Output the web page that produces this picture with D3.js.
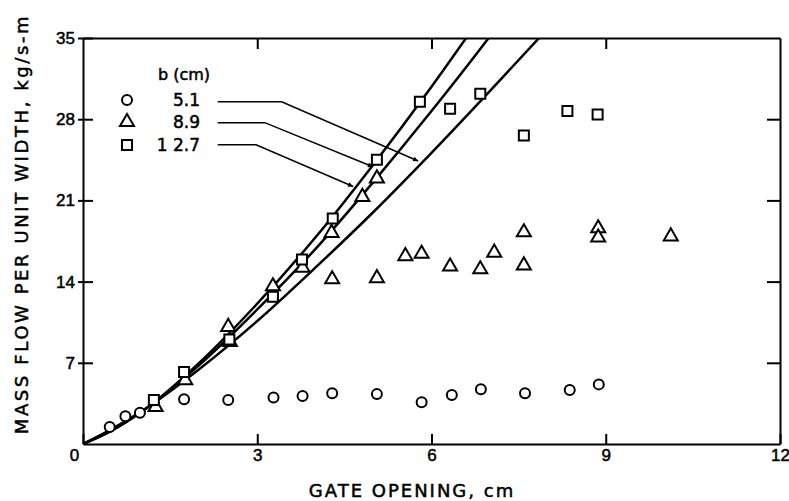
<!DOCTYPE html>
<html>
<head>
<meta charset="utf-8">
<script src="https://cdn.jsdelivr.net/npm/d3@7"></script>
<style>
  body { margin: 0; background: #fff; }
  svg { display: block; font-family: "DejaVu Sans", sans-serif; }
  svg text { stroke: #000; stroke-width: 0.5; fill: #000; }
  .axis path, .axis line { stroke: #000; stroke-width: 2; }
  .axis text { font-size: 17px; }
</style>
</head>
<body>
<div id="chart"></div>
<script>
// gate opening (cm) vs mass flow per unit width (kg/s-m)
var circles51 = [[0.46, 1.47], [0.73, 2.4], [0.98, 2.7], [1.74, 3.85], [2.5, 3.8], [3.28, 4.0],
  [3.78, 4.14], [4.29, 4.37], [5.06, 4.3], [5.83, 3.6], [6.35, 4.22], [6.85, 4.71],
  [7.61, 4.37], [8.38, 4.66], [8.88, 5.14]];
var triangles89 = [[1.25, 3.2], [1.76, 5.5], [2.5, 10.1], [2.53, 8.8], [3.27, 13.6], [3.78, 15.2],
  [4.28, 18.2], [4.81, 21.3], [5.06, 22.9], [4.29, 14.2], [5.06, 14.3], [5.55, 16.2],
  [5.83, 16.4], [6.32, 15.3], [6.84, 15.06], [7.08, 16.5], [7.59, 15.4], [7.59, 18.25],
  [8.87, 18.6], [8.87, 17.8], [10.12, 17.9]];
var squares127 = [[1.22, 3.8], [1.74, 6.2], [2.52, 9.0], [3.27, 12.7], [3.77, 15.9], [4.3, 19.45],
  [5.06, 24.5], [5.8, 29.5], [6.32, 28.9], [6.84, 30.2], [7.59, 26.6], [8.34, 28.7], [8.86, 28.4]];

// predicted curves
var curve51 = [[0, 0], [0.5, 1.3], [1, 2.8], [2, 6.45], [3, 10.6], [4, 15.2], [5, 20.0], [6, 25.1], [7, 30.4], [8, 35.8]];
var curve89 = [[0, 0], [0.5, 1.2], [1, 2.75], [2, 6.8], [3, 11.6], [4, 16.8], [5, 22.6], [6, 28.7], [7, 35.1], [7.5, 38.4]];
var curve127 = [[0, 0], [0.5, 1.15], [1, 2.75], [2, 7.0], [3, 12.1], [4, 17.8], [5, 24.1], [6, 30.8], [7, 37.9]];

var legendLabels = ['5.1', '8.9', '1 2.7'];
// leader lines from legend labels to curves (data units)
var leaders = [
  [[2.32, 29.5], [3.42, 29.5], [5.77, 24.4]],
  [[2.32, 27.7], [3.13, 27.7], [4.99, 23.9]],
  [[2.32, 25.8], [2.98, 25.8], [4.65, 22.2]]
];

var xTicks = [0, 3, 6, 9, 12];
var yTicks = [7, 14, 21, 28, 35];

var margins = { top: 38, right: 9, bottom: 57, left: 83 };
var width = 789 - margins.left - margins.right;
var height = 501 - margins.top - margins.bottom;

var x = d3.scaleLinear().domain([0, 12]).range([0, width]);
var y = d3.scaleLinear().domain([0, 35]).range([height, 0]);

var svg = d3.select('#chart').append('svg')
  .attr('width', 789)
  .attr('height', 501);

var graph = svg.append('g')
  .attr('transform', 'translate(' + margins.left + ',' + margins.top + ')');

graph.append('clipPath').attr('id', 'clip')
  .append('rect').attr('width', width).attr('height', height);

// frame + ticks
graph.append('g').attr('class', 'axis')
  .attr('transform', 'translate(0,' + height + ')')
  .call(d3.axisBottom(x).tickValues(xTicks).tickSizeInner(-10).tickSizeOuter(0).tickPadding(5))
  .selectAll('text').attr('dx', function(d) { return d === 0 ? -9 : 0; });

graph.append('g').attr('class', 'axis')
  .call(d3.axisTop(x).tickValues([3, 6, 9]).tickSizeInner(-11).tickSizeOuter(0).tickFormat(''));

var yAxisG = graph.append('g').attr('class', 'axis')
  .call(d3.axisLeft(y).tickValues(yTicks).tickSizeInner(-10).tickSizeOuter(0).tickPadding(8));
yAxisG.selectAll('.tick line').attr('x1', -5);

graph.append('g').attr('class', 'axis')
  .attr('transform', 'translate(' + width + ',0)')
  .call(d3.axisRight(y).tickValues([7, 14, 21, 28]).tickSizeInner(-13).tickSizeOuter(0).tickFormat(''));

// curves
var line = d3.line()
  .x(function(d) { return x(d[0]); })
  .y(function(d) { return y(d[1]); })
  .curve(d3.curveMonotoneX);

graph.append('g').attr('clip-path', 'url(#clip)')
  .selectAll('path').data([curve51, curve89, curve127]).enter()
  .append('path')
  .attr('d', line)
  .attr('fill', 'none')
  .attr('stroke', '#000')
  .attr('stroke-width', 2.5);

// leader lines with arrows
svg.append('defs').append('marker')
  .attr('id', 'arrow')
  .attr('viewBox', '0 0 10 10')
  .attr('refX', 10).attr('refY', 5)
  .attr('markerWidth', 9).attr('markerHeight', 5)
  .attr('markerUnits', 'userSpaceOnUse')
  .attr('orient', 'auto')
  .append('path').attr('d', 'M0,0L10,5L0,10Z').attr('fill', '#000');

var leaderLine = d3.line()
  .x(function(d) { return x(d[0]); })
  .y(function(d) { return y(d[1]); });

graph.selectAll('.leader').data(leaders).enter()
  .append('path')
  .attr('class', 'leader')
  .attr('d', leaderLine)
  .attr('fill', 'none')
  .attr('stroke', '#000')
  .attr('stroke-width', 1.5)
  .attr('marker-end', 'url(#arrow)');

// markers
var triPath = d3.symbol().type(d3.symbolTriangle).size(85);
var sqPath = d3.symbol().type(d3.symbolSquare).size(100);

graph.selectAll('.c51').data(circles51).enter()
  .append('circle')
  .attr('cx', function(d) { return x(d[0]); })
  .attr('cy', function(d) { return y(d[1]); })
  .attr('r', 5)
  .attr('fill', '#fff').attr('stroke', '#000').attr('stroke-width', 2);

graph.selectAll('.t89').data(triangles89).enter()
  .append('path')
  .attr('d', triPath)
  .attr('transform', function(d) { return 'translate(' + x(d[0]) + ',' + y(d[1]) + ')'; })
  .attr('fill', '#fff').attr('stroke', '#000').attr('stroke-width', 2);

graph.selectAll('.s127').data(squares127).enter()
  .append('path')
  .attr('d', sqPath)
  .attr('transform', function(d) { return 'translate(' + x(d[0]) + ',' + y(d[1]) + ')'; })
  .attr('fill', '#fff').attr('stroke', '#000').attr('stroke-width', 2);

// legend
var legend = svg.append('g').attr('transform', 'translate(127,0)');
legend.append('text')
  .attr('x', 31).attr('y', 80)
  .attr('font-size', 16)
  .text('b (cm)');

var legendRows = [100, 122, 145];
legend.append('circle').attr('cx', 0).attr('cy', legendRows[0]).attr('r', 5)
  .attr('fill', '#fff').attr('stroke', '#000').attr('stroke-width', 2);
legend.append('path').attr('d', triPath).attr('transform', 'translate(0,' + legendRows[1] + ')')
  .attr('fill', '#fff').attr('stroke', '#000').attr('stroke-width', 2);
legend.append('path').attr('d', sqPath).attr('transform', 'translate(0,' + legendRows[2] + ')')
  .attr('fill', '#fff').attr('stroke', '#000').attr('stroke-width', 2);

legend.selectAll('.lbl').data(legendLabels).enter()
  .append('text')
  .attr('x', 73)
  .attr('y', function(d, i) { return legendRows[i] + 6; })
  .attr('text-anchor', 'end')
  .attr('font-size', 17)
  .text(function(d) { return d; });

// axis titles
svg.append('text')
  .attr('x', 412).attr('y', 497)
  .attr('text-anchor', 'middle')
  .attr('font-size', 18)
  .attr('letter-spacing', 2)
  .text('GATE  OPENING, cm');

svg.append('text')
  .attr('transform', 'translate(28,224) rotate(-90)')
  .attr('text-anchor', 'middle')
  .attr('font-size', 18)
  .attr('letter-spacing', 2.6)
  .text('MASS FLOW PER UNIT WIDTH, kg/s-m');
</script>
</body>
</html>
